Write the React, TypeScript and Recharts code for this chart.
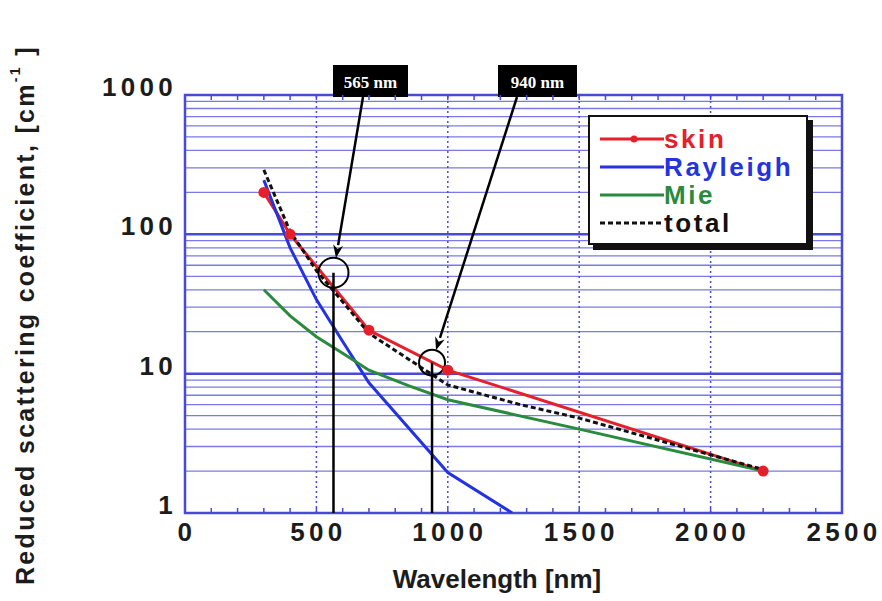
import {
  LineChart,
  Line,
  XAxis,
  YAxis,
  CartesianGrid,
  ReferenceLine,
  ReferenceDot,
  ReferenceArea,
  Legend,
} from 'recharts'

// wavelength [nm] / reduced scattering coefficient [1/cm]
const skinNm = [300, 400, 700, 1000, 2200]
const skinMus = [200, 100, 20.5, 10.6, 2]

const rayleighNm = [300, 400, 500, 600, 700, 1000, 1245]
const rayleighMus = [245, 80, 34, 17, 8.6, 1.95, 1]

const mieNm = [300, 400, 500, 600, 700, 850, 1000, 1500, 2200]
const mieMus = [40, 26, 18.4, 14, 10.6, 8.2, 6.5, 4, 2]

const totalNm = [300, 400, 500, 700, 1000, 1275, 1500, 2200]
const totalMus = [290, 105, 55, 19.5, 8.3, 6, 4.8, 2.05]

// highlighted wavelengths
const calloutNm = [565, 940]
const calloutMus = [53, 12]
const calloutText = ['565 nm', '940 nm']

const xLabels = [0, 500, 1000, 1500, 2000, 2500]
const yLabels = [1, 10, 100, 1000]

const xTicks = Array.from({ length: 26 }, (_, i) => i * 100)
const yTicks = [1, 10, 100].flatMap((d) => [1, 2, 3, 4, 5, 6, 7, 8, 9].map((k) => k * d)).concat(1000)

const toRows = (nm: number[], mus: number[]) => nm.map((w, i) => ({ nm: w, mus: mus[i] }))

const W = 882
const H = 601
const PLOT_TOP = 95
const PLOT_BOTTOM = 513

const RED = '#e5202a'
const BLUE = '#2433e0'
const GREEN = '#2a8a3e'
const INK = '#1c1c1c'
const GRID = '#7a7ae6'
const GRID_DARK = '#4a4ad8'
const FONT = '"Liberation Sans", Arial, Helvetica, sans-serif'

// box / arrow tail positions for the two callouts
const calloutLayout = [
  { boxX: 333, boxW: 75, tailX: 363, r: 15 },
  { boxX: 498, boxW: 79, tailX: 517, r: 13 },
]

function WavelengthTick({ x, payload }: any) {
  const v = payload.value
  const inner = v > 0 && v < 2500
  return (
    <g>
      {inner && (
        <>
          <line x1={x} x2={x} y1={PLOT_BOTTOM} y2={PLOT_BOTTOM - 5} stroke={GRID_DARK} strokeWidth={1.5} />
          <line x1={x} x2={x} y1={PLOT_TOP} y2={PLOT_TOP + 5} stroke={GRID_DARK} strokeWidth={1.5} />
        </>
      )}
      {xLabels.includes(v) && (
        <text
          x={x + 2}
          y={532}
          textAnchor="middle"
          dominantBaseline="central"
          fontFamily={FONT}
          fontWeight={700}
          fontSize={26}
          letterSpacing={4.3}
          fill={INK}
        >
          {v}
        </text>
      )}
    </g>
  )
}

function ScatterTick({ y, payload }: any) {
  const v = payload.value
  if (!yLabels.includes(v)) return null
  return (
    <text
      x={177}
      y={y - 8}
      textAnchor="end"
      dominantBaseline="central"
      fontFamily={FONT}
      fontWeight={700}
      fontSize={26}
      letterSpacing={4.3}
      fill={INK}
    >
      {v}
    </text>
  )
}

function makeCallout(i: number) {
  const { boxX, boxW, tailX, r } = calloutLayout[i]
  return ({ cx, cy }: any) => {
    const tailY = 97
    const dx = cx - tailX
    const dy = cy - tailY
    const len = Math.hypot(dx, dy)
    const ux = dx / len
    const uy = dy / len
    const tipX = cx - ux * r
    const tipY = cy - uy * r
    const headLen = 13
    const headW = 5
    const baseX = tipX - ux * headLen
    const baseY = tipY - uy * headLen
    return (
      <g>
        <circle cx={cx} cy={cy} r={r} fill="none" stroke="#000" strokeWidth={2} />
        <line x1={tailX} y1={tailY} x2={baseX} y2={baseY} stroke="#000" strokeWidth={2.5} />
        <polygon
          points={`${tipX},${tipY} ${baseX - uy * headW},${baseY + ux * headW} ${baseX + ux * 4},${baseY + uy * 4} ${baseX + uy * headW},${baseY - ux * headW}`}
          fill="#000"
        />
        <rect x={boxX} y={65} width={boxW} height={32} fill="#000" />
        <text
          x={boxX + boxW / 2}
          y={82}
          textAnchor="middle"
          dominantBaseline="central"
          fill="#fff"
          fontFamily='"Liberation Serif", "Times New Roman", serif'
          fontWeight={700}
          fontSize={17}
        >
          {calloutText[i]}
        </text>
      </g>
    )
  }
}

const legendRows = [
  { name: 'skin', color: RED, dash: undefined, dot: true },
  { name: 'Rayleigh', color: BLUE, dash: undefined, dot: false },
  { name: 'Mie', color: GREEN, dash: undefined, dot: false },
  { name: 'total', color: '#111', dash: '5 3', dot: false },
]

function LegendBox() {
  return (
    <div
      style={{
        width: 220,
        height: 130,
        boxSizing: 'border-box',
        border: '2px solid #111',
        background: '#fff',
        boxShadow: '5px 5px 0 #111',
        padding: '8px 0 0 10px',
        fontFamily: FONT,
        fontWeight: 700,
        fontSize: 26,
        letterSpacing: 2.6,
      }}
    >
      {legendRows.map((row) => (
        <div key={row.name} style={{ display: 'flex', alignItems: 'center', height: 28 }}>
          <svg width={64} height={12} style={{ flex: 'none' }}>
            <line x1={0} x2={64} y1={6} y2={6} stroke={row.color} strokeWidth={3} strokeDasharray={row.dash} />
            {row.dot && <circle cx={34} cy={6} r={3.5} fill={row.color} />}
          </svg>
          <span style={{ color: row.color, lineHeight: '28px' }}>{row.name}</span>
        </div>
      ))}
    </div>
  )
}

export default function App() {
  return (
    <div style={{ position: 'absolute', left: 0, top: 0, width: W, height: H, background: '#fff' }}>
      <LineChart width={W} height={H} margin={{ top: PLOT_TOP, right: 40, bottom: 28, left: 0 }}>
        <CartesianGrid vertical={false} stroke={GRID} strokeWidth={1.3} />
        <XAxis
          dataKey="nm"
          type="number"
          domain={[0, 2500]}
          ticks={xTicks}
          interval={0}
          height={60}
          axisLine={false}
          tickLine={false}
          tick={<WavelengthTick />}
          allowDataOverflow
          label={{
            content: () => (
              <text
                x={497}
                y={579}
                textAnchor="middle"
                dominantBaseline="central"
                fontFamily={FONT}
                fontWeight={700}
                fontSize={26}
                fill={INK}
              >
                Wavelength [nm]
              </text>
            ),
          }}
        />
        <YAxis
          type="number"
          scale="log"
          domain={[1, 1000]}
          ticks={yTicks}
          interval={0}
          width={185}
          axisLine={false}
          tickLine={false}
          tick={<ScatterTick />}
          allowDataOverflow
          label={{
            content: () => (
              <text
                transform="translate(25,585) rotate(-90)"
                textAnchor="start"
                dominantBaseline="central"
                fontFamily={FONT}
                fontWeight={700}
                fontSize={25}
                letterSpacing={2.3}
                fill={INK}
              >
                Reduced scattering coefficient, [cm
                <tspan fontSize={14} dy={-10}>-1</tspan>
                <tspan dy={10}> ]</tspan>
              </text>
            ),
          }}
        />
        {[10, 100].map((v) => (
          <ReferenceLine key={v} y={v} stroke={GRID_DARK} strokeWidth={2.5} />
        ))}
        {[500, 1000, 1500, 2000].map((v) => (
          <ReferenceLine key={v} x={v} stroke={GRID_DARK} strokeWidth={1.5} strokeDasharray="2 3" />
        ))}
        <ReferenceArea x1={0} x2={2500} y1={1} y2={1000} fill="none" stroke={GRID_DARK} strokeWidth={2.5} />

        <Line
          data={toRows(skinNm, skinMus)}
          dataKey="mus"
          name="skin"
          type="linear"
          stroke={RED}
          strokeWidth={3}
          dot={{ r: 4, fill: RED, stroke: RED }}
          isAnimationActive={false}
        />
        <Line
          data={toRows(rayleighNm, rayleighMus)}
          dataKey="mus"
          name="Rayleigh"
          type="linear"
          stroke={BLUE}
          strokeWidth={3}
          dot={false}
          isAnimationActive={false}
        />
        <Line
          data={toRows(mieNm, mieMus)}
          dataKey="mus"
          name="Mie"
          type="linear"
          stroke={GREEN}
          strokeWidth={3}
          dot={false}
          isAnimationActive={false}
        />
        <Line
          data={toRows(totalNm, totalMus)}
          dataKey="mus"
          name="total"
          type="linear"
          stroke="#111"
          strokeWidth={3}
          strokeDasharray="5 3"
          dot={false}
          isAnimationActive={false}
        />

        {calloutNm.map((nm, i) => (
          <ReferenceLine
            key={`v${nm}`}
            segment={[
              { x: nm, y: 1 },
              { x: nm, y: calloutMus[i] },
            ]}
            stroke="#000"
            strokeWidth={2.5}
          />
        ))}
        {calloutNm.map((nm, i) => (
          <ReferenceDot key={`c${nm}`} x={nm} y={calloutMus[i]} r={calloutLayout[i].r} shape={makeCallout(i)} />
        ))}

        <Legend
          layout="vertical"
          align="center"
          verticalAlign="middle"
          wrapperStyle={{ left: 588, top: 115, width: 220, height: 130 }}
          content={() => <LegendBox />}
        />
      </LineChart>
    </div>
  )
}
